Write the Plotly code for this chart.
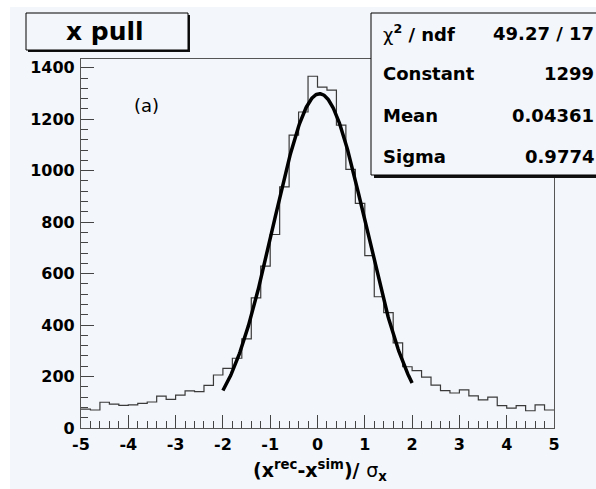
import numpy as np
import plotly.graph_objects as go

# ---------------- data ----------------
bin_low = -5.0
bin_high = 5.0
counts = [73, 70, 100, 93, 88, 90, 96, 101, 124, 111,
          128, 144, 141, 166, 206, 232, 271, 346, 506, 629,
          752, 937, 1138, 1228, 1367, 1325, 1313, 1177, 1005, 873,
          670, 510, 448, 331, 238, 223, 198, 167, 145, 136,
          148, 125, 109, 120, 87, 77, 87, 67, 90, 70]

fit_constant = 1299.0
fit_mean = 0.04361
fit_sigma = 0.9774
fit_lo, fit_hi = -2.0, 2.0

stat_labels = ["χ<sup><b>2</b></sup><b> / ndf</b>", "<b>Constant</b>", "<b>Mean</b>", "<b>Sigma</b>"]
stat_values = ["49.27 / 17", "1299", "0.04361", "0.9774"]

x_tick_vals = [-5, -4, -3, -2, -1, 0, 1, 2, 3, 4, 5]
x_tick_text = ["-5", "-4", "-3", "-2", "-1", "0", "1", "2", "3", "4", "5"]
y_tick_vals = [0, 200, 400, 600, 800, 1000, 1200, 1400]
y_tick_text = ["0", "200", "400", "600", "800", "1000", "1200", "1400"]

title_text = "<b>x pull</b>"
x_title = "<b>(x</b><sup><b>rec</b></sup><b>-x</b><sup><b>sim</b></sup><b>)/ </b>σ<sub><b>x</b></sub>"
panel_label = "(a)"

# ---------------- layout geometry ----------------
W, H = 596, 489
ML, MR, MT, MB = 81, 42, 59, 61
PW, PH = W - ML - MR, H - MT - MB
Y_MAX = 1434

def px_x(p):
    return (p - ML) / PW

def px_y(p):
    return (H - MB - p) / PH

PAD = "#f3f6fa"
FONT = "DejaVu Sans"

n_bins = len(counts)
edges = np.linspace(bin_low, bin_high, n_bins + 1)
step_y = list(counts) + [counts[-1]]

fx = np.linspace(fit_lo, fit_hi, 300)
fy = fit_constant * np.exp(-0.5 * ((fx - fit_mean) / fit_sigma) ** 2)

fig = go.Figure()
fig.add_trace(go.Scatter(x=edges, y=step_y, mode="lines", line=dict(shape="hv", color="#3a3a3a", width=1.2),
                         hoverinfo="skip", showlegend=False))
fig.add_trace(go.Scatter(x=fx, y=fy, mode="lines", line=dict(color="black", width=3.5),
                         hoverinfo="skip", showlegend=False))

shapes = []
# pad background
shapes.append(dict(type="rect", xref="paper", yref="paper", x0=px_x(10), x1=px_x(600), y0=px_y(7), y1=px_y(489),
                   fillcolor=PAD, line=dict(width=0), layer="below"))
# title box shadow + box
shapes.append(dict(type="rect", xref="paper", yref="paper", x0=px_x(28), x1=px_x(190), y0=px_y(15), y1=px_y(52),
                   fillcolor="#111111", line=dict(width=0), layer="above"))
shapes.append(dict(type="rect", xref="paper", yref="paper", x0=px_x(26), x1=px_x(188), y0=px_y(13), y1=px_y(50),
                   fillcolor=PAD, line=dict(color="black", width=1), layer="above"))
# stats box shadow + box
shapes.append(dict(type="rect", xref="paper", yref="paper", x0=px_x(374), x1=px_x(610), y0=px_y(16), y1=px_y(178),
                   fillcolor="#111111", line=dict(width=0), layer="above"))
shapes.append(dict(type="rect", xref="paper", yref="paper", x0=px_x(371), x1=px_x(608), y0=px_y(13), y1=px_y(175),
                   fillcolor=PAD, line=dict(color="black", width=1), layer="above"))

annotations = []
annotations.append(dict(text=title_text, xref="paper", yref="paper", x=px_x(105), y=px_y(32),
                        xanchor="center", yanchor="middle", showarrow=False,
                        font=dict(family=FONT, size=25, color="black")))
row_y = [33, 73, 115, 156]
for lab, val, ry in zip(stat_labels, stat_values, row_y):
    annotations.append(dict(text=lab, xref="paper", yref="paper", x=px_x(381), y=px_y(ry),
                            xanchor="left", yanchor="middle", showarrow=False,
                            font=dict(family=FONT, size=18, color="black")))
    annotations.append(dict(text="<b>" + val + "</b>", xref="paper", yref="paper", x=px_x(596), y=px_y(ry),
                            xanchor="right", yanchor="middle", showarrow=False,
                            font=dict(family=FONT, size=18, color="black")))
annotations.append(dict(text=panel_label, xref="paper", yref="paper", x=px_x(146), y=px_y(105),
                        xanchor="center", yanchor="middle", showarrow=False,
                        font=dict(family=FONT, size=18, color="black")))
annotations.append(dict(text=x_title, xref="paper", yref="paper", x=px_x(320), y=px_y(470),
                        xanchor="center", yanchor="middle", showarrow=False,
                        font=dict(family=FONT, size=19, color="black")))

axis_common = dict(showgrid=False, zeroline=False, showline=True, linecolor="#555555", linewidth=1.2,
                   mirror=True, ticks="inside", ticklen=13, tickwidth=1.2, tickcolor="#444444",
                   tickfont=dict(family=FONT, size=16, color="black", weight="bold"))

fig.update_layout(
    width=W, height=H,
    margin=dict(l=ML, r=MR, t=MT, b=MB, pad=0),
    paper_bgcolor="white", plot_bgcolor=PAD,
    shapes=shapes, annotations=annotations,
    xaxis=dict(range=[bin_low, bin_high], tickmode="array", tickvals=x_tick_vals, ticktext=x_tick_text,
               minor=dict(ticks="inside", ticklen=7, dtick=0.2, tickcolor="#444444", tickwidth=1.2),
               ticklabelstandoff=2, **axis_common),
    yaxis=dict(range=[0, Y_MAX], tickmode="array", tickvals=y_tick_vals, ticktext=y_tick_text,
               minor=dict(ticks="inside", ticklen=7, dtick=40, tickcolor="#444444", tickwidth=1.2),
               ticklabelstandoff=2, **axis_common),
    showlegend=False,
)

fig.write_html("out.html")
